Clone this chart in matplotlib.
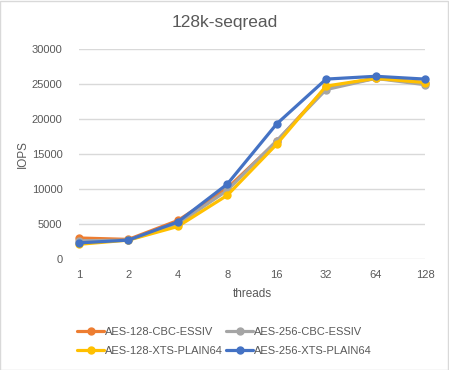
import matplotlib
matplotlib.use("Agg")
import matplotlib.pyplot as plt
from matplotlib.patches import Rectangle

plt.rcParams['font.family'] = ['Liberation Sans', 'DejaVu Sans']

# threads on the category axis
threads = ["1", "2", "4", "8", "16", "32", "64", "128"]

# IOPS per cipher
aes128_cbc = [3000, 2800, 5500, 10100, 16800, 24500, 25800, 25200]
aes256_cbc = [2600, 2700, 5000, 9800, 16900, 24200, 25800, 24900]
aes128_xts = [2100, 2700, 4650, 9100, 16400, 24700, 25800, 25200]
aes256_xts = [2300, 2700, 5300, 10700, 19300, 25700, 26100, 25700]

series = [
    ("AES-128-CBC-ESSIV", aes128_cbc, "#ED7D31"),
    ("AES-256-CBC-ESSIV", aes256_cbc, "#A5A5A5"),
    ("AES-128-XTS-PLAIN64", aes128_xts, "#FFC000"),
    ("AES-256-XTS-PLAIN64", aes256_xts, "#4472C4"),
]

txt = "#595959"

fig = plt.figure(figsize=(4.49, 3.7), dpi=100)
ax = fig.add_axes([0.176, 0.30, 0.7705, 0.5676])

x = list(range(len(threads)))
for name, vals, col in series:
    ax.plot(x, vals, color=col, lw=2.3, marker="o", ms=5, label=name,
            solid_capstyle="round", clip_on=False)

ax.set_xlim(0, len(threads) - 1)
ax.set_ylim(0, 30000)
ax.set_yticks(range(0, 30001, 5000))
ax.set_xticks(x)
ax.set_xticklabels(threads)
ax.grid(axis="y", color="#D9D9D9", lw=1)
ax.set_axisbelow(True)
for s in ax.spines.values():
    s.set_visible(False)
ax.tick_params(length=0, colors=txt, labelsize=8, pad=8)
ax.tick_params(axis="y", pad=12)

ax.set_xlabel("threads", color=txt, fontsize=8.5, labelpad=6)
ax.set_ylabel("IOPS", color=txt, fontsize=8.5, labelpad=2)
fig.text(0.5, 0.94, "128k-seqread", ha="center", va="center", color=txt, fontsize=12.5)

# legend fills by column, so reorder to get the row-wise layout
h, l = ax.get_legend_handles_labels()
order = [0, 2, 1, 3]
fig.legend([h[i] for i in order], [l[i] for i in order],
           loc="center", bbox_to_anchor=(0.5, 0.077), ncol=2, frameon=False,
           fontsize=8, labelcolor=txt, handlelength=2.4, handletextpad=0.1,
           columnspacing=0.3, labelspacing=0.75)

fig.patches.append(Rectangle((0.001, 0.001), 0.997, 0.997, transform=fig.transFigure,
                             fill=False, edgecolor="#D9D9D9", lw=1))

fig.savefig("out.png", dpi=100, facecolor="white")
